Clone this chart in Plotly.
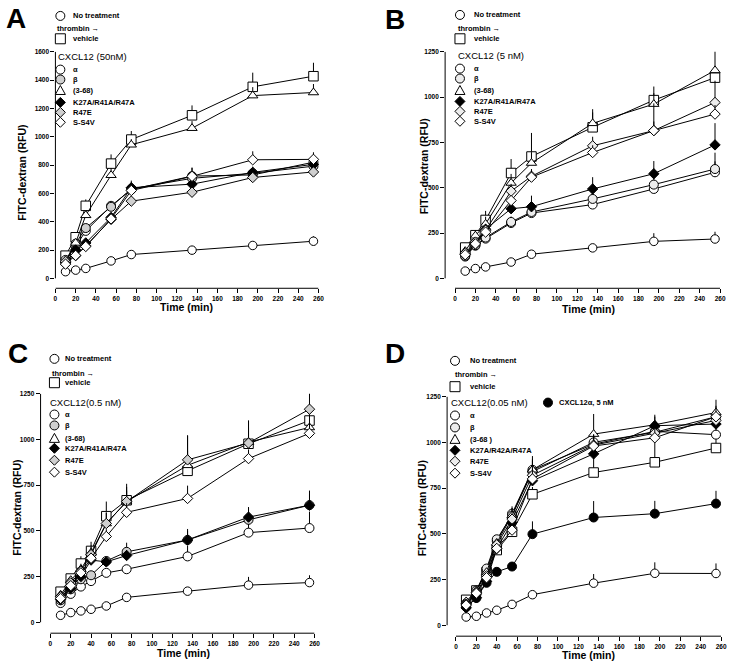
import plotly.graph_objects as go

W, H = 735, 665
FONT = "Liberation Sans, Arial, sans-serif"

# ---------------- data ----------------
TIME_AB = [10, 20, 30, 55, 75, 135, 195, 255]
TIME_CD = [10, 20, 30, 40, 55, 75, 135, 195, 255]
X_TICKS = list(range(0, 261, 20))
Y_TICKS_A = list(range(0, 1601, 200))
Y_TICKS_BCD = [0, 250, 500, 750, 1000, 1250]

PANEL_LETTERS = ["A", "B", "C", "D"]
HEADINGS = ["CXCL12 (50nM)", "CXCL12 (5 nM)", "CXCL12(0.5 nM)", "CXCL12(0.05 nM)"]
LEGEND_LABELS = ["α", "β", "(3-68)", "K27A/R41A/R47A", "R47E", "S-S4V"]
LEGEND_LABELS_D = ["α", "β", "(3-68 )", "K27A/R42A/R47A", "R47E", "S-S4V"]
EXTRA_D_LABEL = "CXCL12α, 5 nM"
X_TITLE = "Time (min)"
Y_TITLE = "FITC-dextran (RFU)"

# Panel A (50 nM)
a_none = [47, 58, 70, 123, 168, 199, 232, 262]
a_none_err = [4, 4, 5, 8, 10, 12, 20, 35]
a_vehicle = [160, 290, 512, 810, 980, 1151, 1352, 1427]
a_vehicle_err = [15, 25, 45, 65, 60, 70, 100, 95]
a_alpha = [130, 225, 335, 512, 627, 722, 730, 820]
a_alpha_err = [10, 20, 20, 30, 50, 60, 40, 60]
a_beta = [110, 245, 355, 505, 632, 706, 742, 792]
a_beta_err = [10, 20, 20, 30, 40, 40, 40, 50]
a_368 = [125, 250, 445, 728, 943, 1060, 1290, 1312]
a_368_err = [10, 20, 30, 50, 40, 50, 60, 60]
a_k27 = [110, 200, 250, 430, 640, 665, 748, 805]
a_k27_err = [10, 15, 20, 30, 50, 40, 40, 40]
a_r47e = [120, 160, 229, 416, 545, 608, 712, 751]
a_r47e_err = [10, 10, 20, 20, 30, 30, 30, 30]
a_ss4v = [100, 162, 225, 420, 620, 720, 837, 840]
a_ss4v_err = [10, 10, 20, 30, 40, 60, 60, 50]

# Panel B (5 nM)
b_none = [40, 54, 63, 90, 133, 168, 204, 217]
b_none_err = [4, 4, 5, 8, 10, 12, 45, 40]
b_vehicle = [170, 238, 322, 581, 672, 833, 983, 1107]
b_vehicle_err = [10, 20, 50, 77, 130, 100, 75, 60]
b_alpha = [120, 180, 219, 305, 360, 407, 493, 585]
b_alpha_err = [10, 10, 15, 20, 30, 40, 40, 60]
b_beta = [124, 183, 225, 311, 366, 438, 517, 603]
b_beta_err = [10, 15, 15, 30, 90, 50, 50, 90]
b_368 = [150, 235, 300, 526, 636, 855, 961, 1147]
b_368_err = [10, 30, 40, 50, 60, 60, 60, 110]
b_k27 = [130, 190, 271, 384, 395, 493, 577, 736]
b_k27_err = [10, 15, 30, 30, 30, 65, 70, 120]
b_r47e = [140, 200, 265, 481, 563, 731, 815, 970]
b_r47e_err = [10, 15, 20, 40, 40, 50, 150, 120]
b_ss4v = [130, 190, 255, 429, 558, 694, 815, 906]
b_ss4v_err = [10, 15, 20, 30, 40, 40, 50, 50]

# Panel C (0.5 nM)
c_none = [38, 53, 62, 71, 89, 136, 170, 203, 217]
c_none_err = [4, 4, 5, 5, 8, 10, 15, 45, 40]
c_vehicle = [167, 239, 321, 390, 580, 667, 828, 976, 1103]
c_vehicle_err = [10, 20, 40, 50, 80, 90, 195, 128, 80]
c_alpha = [105, 155, 195, 225, 270, 290, 360, 490, 515]
c_alpha_err = [10, 10, 15, 20, 20, 20, 60, 50, 90]
c_beta = [120, 180, 235, 257, 335, 385, 450, 560, 640]
c_beta_err = [10, 10, 15, 20, 20, 50, 60, 70, 80]
c_368 = [150, 230, 290, 380, 540, 660, 858, 985, 1065]
c_368_err = [10, 20, 30, 40, 60, 60, 80, 80, 80]
c_k27 = [125, 185, 250, 340, 330, 365, 450, 575, 640]
c_k27_err = [10, 10, 15, 30, 20, 30, 50, 50, 60]
c_r47e = [140, 215, 280, 370, 540, 660, 888, 980, 1165]
c_r47e_err = [10, 20, 30, 40, 60, 80, 130, 120, 90]
c_ss4v = [130, 200, 270, 350, 469, 601, 677, 895, 1033]
c_ss4v_err = [10, 15, 20, 30, 40, 50, 70, 50, 60]

# Panel D (0.05 nM)
d_none = [45, 49, 67, 82, 114, 167, 230, 284, 283]
d_none_err = [4, 4, 5, 5, 8, 10, 50, 60, 55]
d_vehicle = [139, 190, 290, 411, 511, 716, 835, 891, 969]
d_vehicle_err = [10, 15, 20, 30, 30, 40, 100, 180, 60]
d_alpha = [110, 185, 300, 460, 610, 850, 990, 1060, 1042]
d_alpha_err = [10, 10, 20, 20, 40, 75, 60, 50, 60]
d_beta = [120, 190, 310, 470, 600, 840, 1000, 1055, 1140]
d_beta_err = [10, 10, 20, 20, 40, 60, 60, 50, 60]
d_368 = [130, 190, 290, 450, 600, 850, 1045, 1096, 1163]
d_368_err = [10, 10, 20, 20, 40, 60, 110, 55, 70]
d_k27 = [95, 150, 240, 420, 560, 790, 937, 1091, 1100]
d_k27_err = [10, 10, 20, 20, 40, 60, 60, 50, 50]
d_r47e = [115, 180, 270, 440, 580, 820, 985, 1050, 1120]
d_r47e_err = [10, 10, 20, 20, 40, 60, 60, 50, 50]
d_ss4v = [110, 175, 260, 420, 520, 800, 980, 1025, 1140]
d_ss4v_err = [10, 10, 20, 20, 40, 60, 60, 50, 50]
d_a5 = [100, 149, 232, 292, 321, 498, 589, 610, 665]
d_a5_err = [10, 15, 15, 15, 15, 70, 90, 70, 70]

# ---------------- styles ----------------
GRAY_A = "#cfcfcf"
GRAY_L = "#ececec"
STYLE = {
    "none":    dict(symbol="circle", size=8.5),
    "vehicle": dict(symbol="square", size=9.5),
    "alpha":   dict(symbol="circle", size=9),
    "beta":    dict(symbol="circle", size=9),
    "368":     dict(symbol="triangle-up", size=9),
    "k27":     dict(symbol="diamond", size=8),
    "r47e":    dict(symbol="diamond", size=8),
    "ss4v":    dict(symbol="diamond", size=8),
    "a5":      dict(symbol="circle", size=9),
}

def fill_for(key, gray):
    if key in ("beta", "r47e"):
        return gray
    if key in ("k27", "a5"):
        return "black"
    return "white"

def px2fx(px):
    return px / W

def py2fy(py):
    return 1 - py / H

# panel layout in pixels: x domain, x range, y domain (bottom, top), y range
PANELS = [
    dict(xd=(54, 320), xr=(0, 260), yd=(286, 48), yr=(-70.2, 1600), yticks=Y_TICKS_A, gray=GRAY_A,
         letter=(14, 15), ytitle=(20, 170), xtitle=(187, 305)),
    dict(xd=(448, 726), xr=(-9.7, 260), yd=(286, 48), yr=(-54.8, 1250), yticks=Y_TICKS_BCD, gray=GRAY_L,
         letter=(397, 16), ytitle=(427, 163), xtitle=(593, 307)),
    dict(xd=(39, 316), xr=(-9.7, 260), yd=(633, 392), yr=(-59.8, 1250), yticks=Y_TICKS_BCD, gray=GRAY_A,
         letter=(16, 352), ytitle=(15, 507), xtitle=(183, 653)),
    dict(xd=(450, 727), xr=(-8.7, 260), yd=(636, 395), yr=(-59.8, 1250), yticks=Y_TICKS_BCD, gray=GRAY_L,
         letter=(397, 352), ytitle=(425, 507), xtitle=(593, 655)),
]

# legend layout in pixels
LEGENDS = [
    dict(sx=59, tx=70, y_none=12, thr=(54, 25), y_veh=35, head=(55, 53), ys=[66, 76, 87, 99, 109, 119]),
    dict(sx=463, tx=475, y_none=11, thr=(459, 25), y_veh=35, head=(459, 52), ys=[65, 75, 87, 98, 108, 118]),
    dict(sx=53, tx=62, y_none=357, thr=(49, 372), y_veh=381, head=(47, 401), ys=[413, 424, 437, 447, 459, 471]),
    dict(sx=458, tx=471, y_none=359, thr=(456, 373), y_veh=385, head=(452, 401), ys=[414, 426, 438, 449, 460, 472]),
]

DATA = [
    (TIME_AB, [("none", a_none, a_none_err), ("vehicle", a_vehicle, a_vehicle_err),
               ("alpha", a_alpha, a_alpha_err), ("beta", a_beta, a_beta_err),
               ("368", a_368, a_368_err), ("k27", a_k27, a_k27_err),
               ("r47e", a_r47e, a_r47e_err), ("ss4v", a_ss4v, a_ss4v_err)]),
    (TIME_AB, [("none", b_none, b_none_err), ("vehicle", b_vehicle, b_vehicle_err),
               ("alpha", b_alpha, b_alpha_err), ("beta", b_beta, b_beta_err),
               ("368", b_368, b_368_err), ("k27", b_k27, b_k27_err),
               ("r47e", b_r47e, b_r47e_err), ("ss4v", b_ss4v, b_ss4v_err)]),
    (TIME_CD, [("none", c_none, c_none_err), ("vehicle", c_vehicle, c_vehicle_err),
               ("alpha", c_alpha, c_alpha_err), ("beta", c_beta, c_beta_err),
               ("368", c_368, c_368_err), ("k27", c_k27, c_k27_err),
               ("r47e", c_r47e, c_r47e_err), ("ss4v", c_ss4v, c_ss4v_err)]),
    (TIME_CD, [("none", d_none, d_none_err), ("vehicle", d_vehicle, d_vehicle_err),
               ("a5", d_a5, d_a5_err),
               ("alpha", d_alpha, d_alpha_err), ("beta", d_beta, d_beta_err),
               ("368", d_368, d_368_err), ("k27", d_k27, d_k27_err),
               ("r47e", d_r47e, d_r47e_err), ("ss4v", d_ss4v, d_ss4v_err)]),
]

fig = go.Figure()
shapes = []
annotations = []

def key_shape(kind, px, py, fill):
    base = dict(xref="paper", yref="paper", xsizemode="pixel", ysizemode="pixel",
                xanchor=px2fx(px), yanchor=py2fy(py),
                line=dict(color="black", width=1), fillcolor=fill, layer="above")
    sym = STYLE[kind]["symbol"]
    if sym == "circle":
        base.update(type="circle", x0=-4.5, x1=4.5, y0=-4.5, y1=4.5)
    elif sym == "square":
        base.update(type="rect", x0=-5, x1=5, y0=-5, y1=5)
    elif sym == "triangle-up":
        base.update(type="path", path="M -5,-4 L 5,-4 L 0,5 Z")
    else:
        base.update(type="path", path="M 0,-5 L 5,0 L 0,5 L -5,0 Z")
    return base

def text_ann(txt, px, py, size=7.5, bold=True, xanchor="left", angle=0):
    return dict(text=txt, xref="paper", yref="paper", x=px2fx(px), y=py2fy(py),
                xanchor=xanchor, yanchor="middle", showarrow=False, textangle=angle,
                font=dict(family=FONT, size=size, color="black",
                          weight="bold" if bold else "normal"))

for i, (panel, (times, series)) in enumerate(zip(PANELS, DATA)):
    n = i + 1
    xa = "x" if n == 1 else f"x{n}"
    ya = "y" if n == 1 else f"y{n}"
    for key, vals, errs in series:
        st = STYLE[key]
        fig.add_trace(go.Scatter(
            x=times, y=vals, mode="lines+markers", xaxis=xa, yaxis=ya,
            showlegend=False, cliponaxis=False, hoverinfo="skip",
            line=dict(color="black", width=1),
            marker=dict(symbol=st["symbol"], size=st["size"], color=fill_for(key, panel["gray"]),
                        line=dict(color="black", width=1)),
            error_y=dict(type="data", symmetric=False, array=errs, arrayminus=[0] * len(errs),
                         width=0, thickness=1, color="black"),
        ))
    axis_common = dict(showgrid=False, zeroline=False, showline=False, ticks="outside",
                       ticklen=4, tickwidth=1, tickcolor="black", fixedrange=True,
                       tickfont=dict(family=FONT, size=6.5, color="black", weight="bold"))
    fig.layout[("xaxis" if n == 1 else f"xaxis{n}")] = dict(
        domain=[px2fx(panel["xd"][0]), px2fx(panel["xd"][1])], range=list(panel["xr"]),
        anchor=ya, tickvals=X_TICKS, **axis_common)
    fig.layout[("yaxis" if n == 1 else f"yaxis{n}")] = dict(
        domain=[py2fy(panel["yd"][0]), py2fy(panel["yd"][1])], range=list(panel["yr"]),
        anchor=xa, tickvals=panel["yticks"], **axis_common)
    # detached axis lines (Prism style)
    shapes.append(dict(type="line", xref=xa, yref=f"{ya} domain", x0=X_TICKS[0], x1=X_TICKS[-1],
                       y0=0, y1=0, line=dict(color="black", width=1), layer="below"))
    shapes.append(dict(type="line", xref=f"{xa} domain", yref=ya, x0=0, x1=0,
                       y0=panel["yticks"][0], y1=panel["yticks"][-1],
                       line=dict(color="black", width=1), layer="below"))
    # letters and titles
    annotations.append(dict(text=PANEL_LETTERS[i], xref="paper", yref="paper",
                            x=px2fx(panel["letter"][0]), y=py2fy(panel["letter"][1]),
                            xanchor="center", yanchor="middle", showarrow=False,
                            font=dict(family=FONT, size=28, color="black", weight="bold")))
    annotations.append(text_ann(Y_TITLE, panel["ytitle"][0], panel["ytitle"][1], size=10.5,
                                xanchor="center", angle=-90))
    annotations.append(text_ann(X_TITLE, panel["xtitle"][0], panel["xtitle"][1], size=10.5,
                                xanchor="center"))
    # custom legend
    lg = LEGENDS[i]
    shapes.append(key_shape("none", lg["sx"], lg["y_none"], "white"))
    annotations.append(text_ann("No treatment", lg["tx"], lg["y_none"]))
    annotations.append(text_ann("thrombin →", lg["thr"][0], lg["thr"][1]))
    shapes.append(key_shape("vehicle", lg["sx"], lg["y_veh"], "white"))
    annotations.append(text_ann("vehicle", lg["tx"], lg["y_veh"]))
    annotations.append(text_ann(HEADINGS[i], lg["head"][0], lg["head"][1], size=9.5, bold=False))
    labels = LEGEND_LABELS_D if n == 4 else LEGEND_LABELS
    for key, lab, yy in zip(["alpha", "beta", "368", "k27", "r47e", "ss4v"], labels, lg["ys"]):
        shapes.append(key_shape(key, lg["sx"], yy, fill_for(key, panel["gray"])))
        annotations.append(text_ann(lab, lg["tx"], yy))
    if n == 4:
        shapes.append(key_shape("a5", 552, 401, "black"))
        annotations.append(text_ann(EXTRA_D_LABEL, 561, 401))

fig.update_layout(width=W, height=H, margin=dict(l=0, r=0, t=0, b=0),
                  paper_bgcolor="white", plot_bgcolor="white",
                  shapes=shapes, annotations=annotations, showlegend=False,
                  hovermode=False, dragmode=False,
                  font=dict(family=FONT, color="black"))
fig.write_html("out.html", config={"displayModeBar": False, "staticPlot": True},
               post_script="document.body.style.margin='0px';document.body.style.overflow='hidden';")
